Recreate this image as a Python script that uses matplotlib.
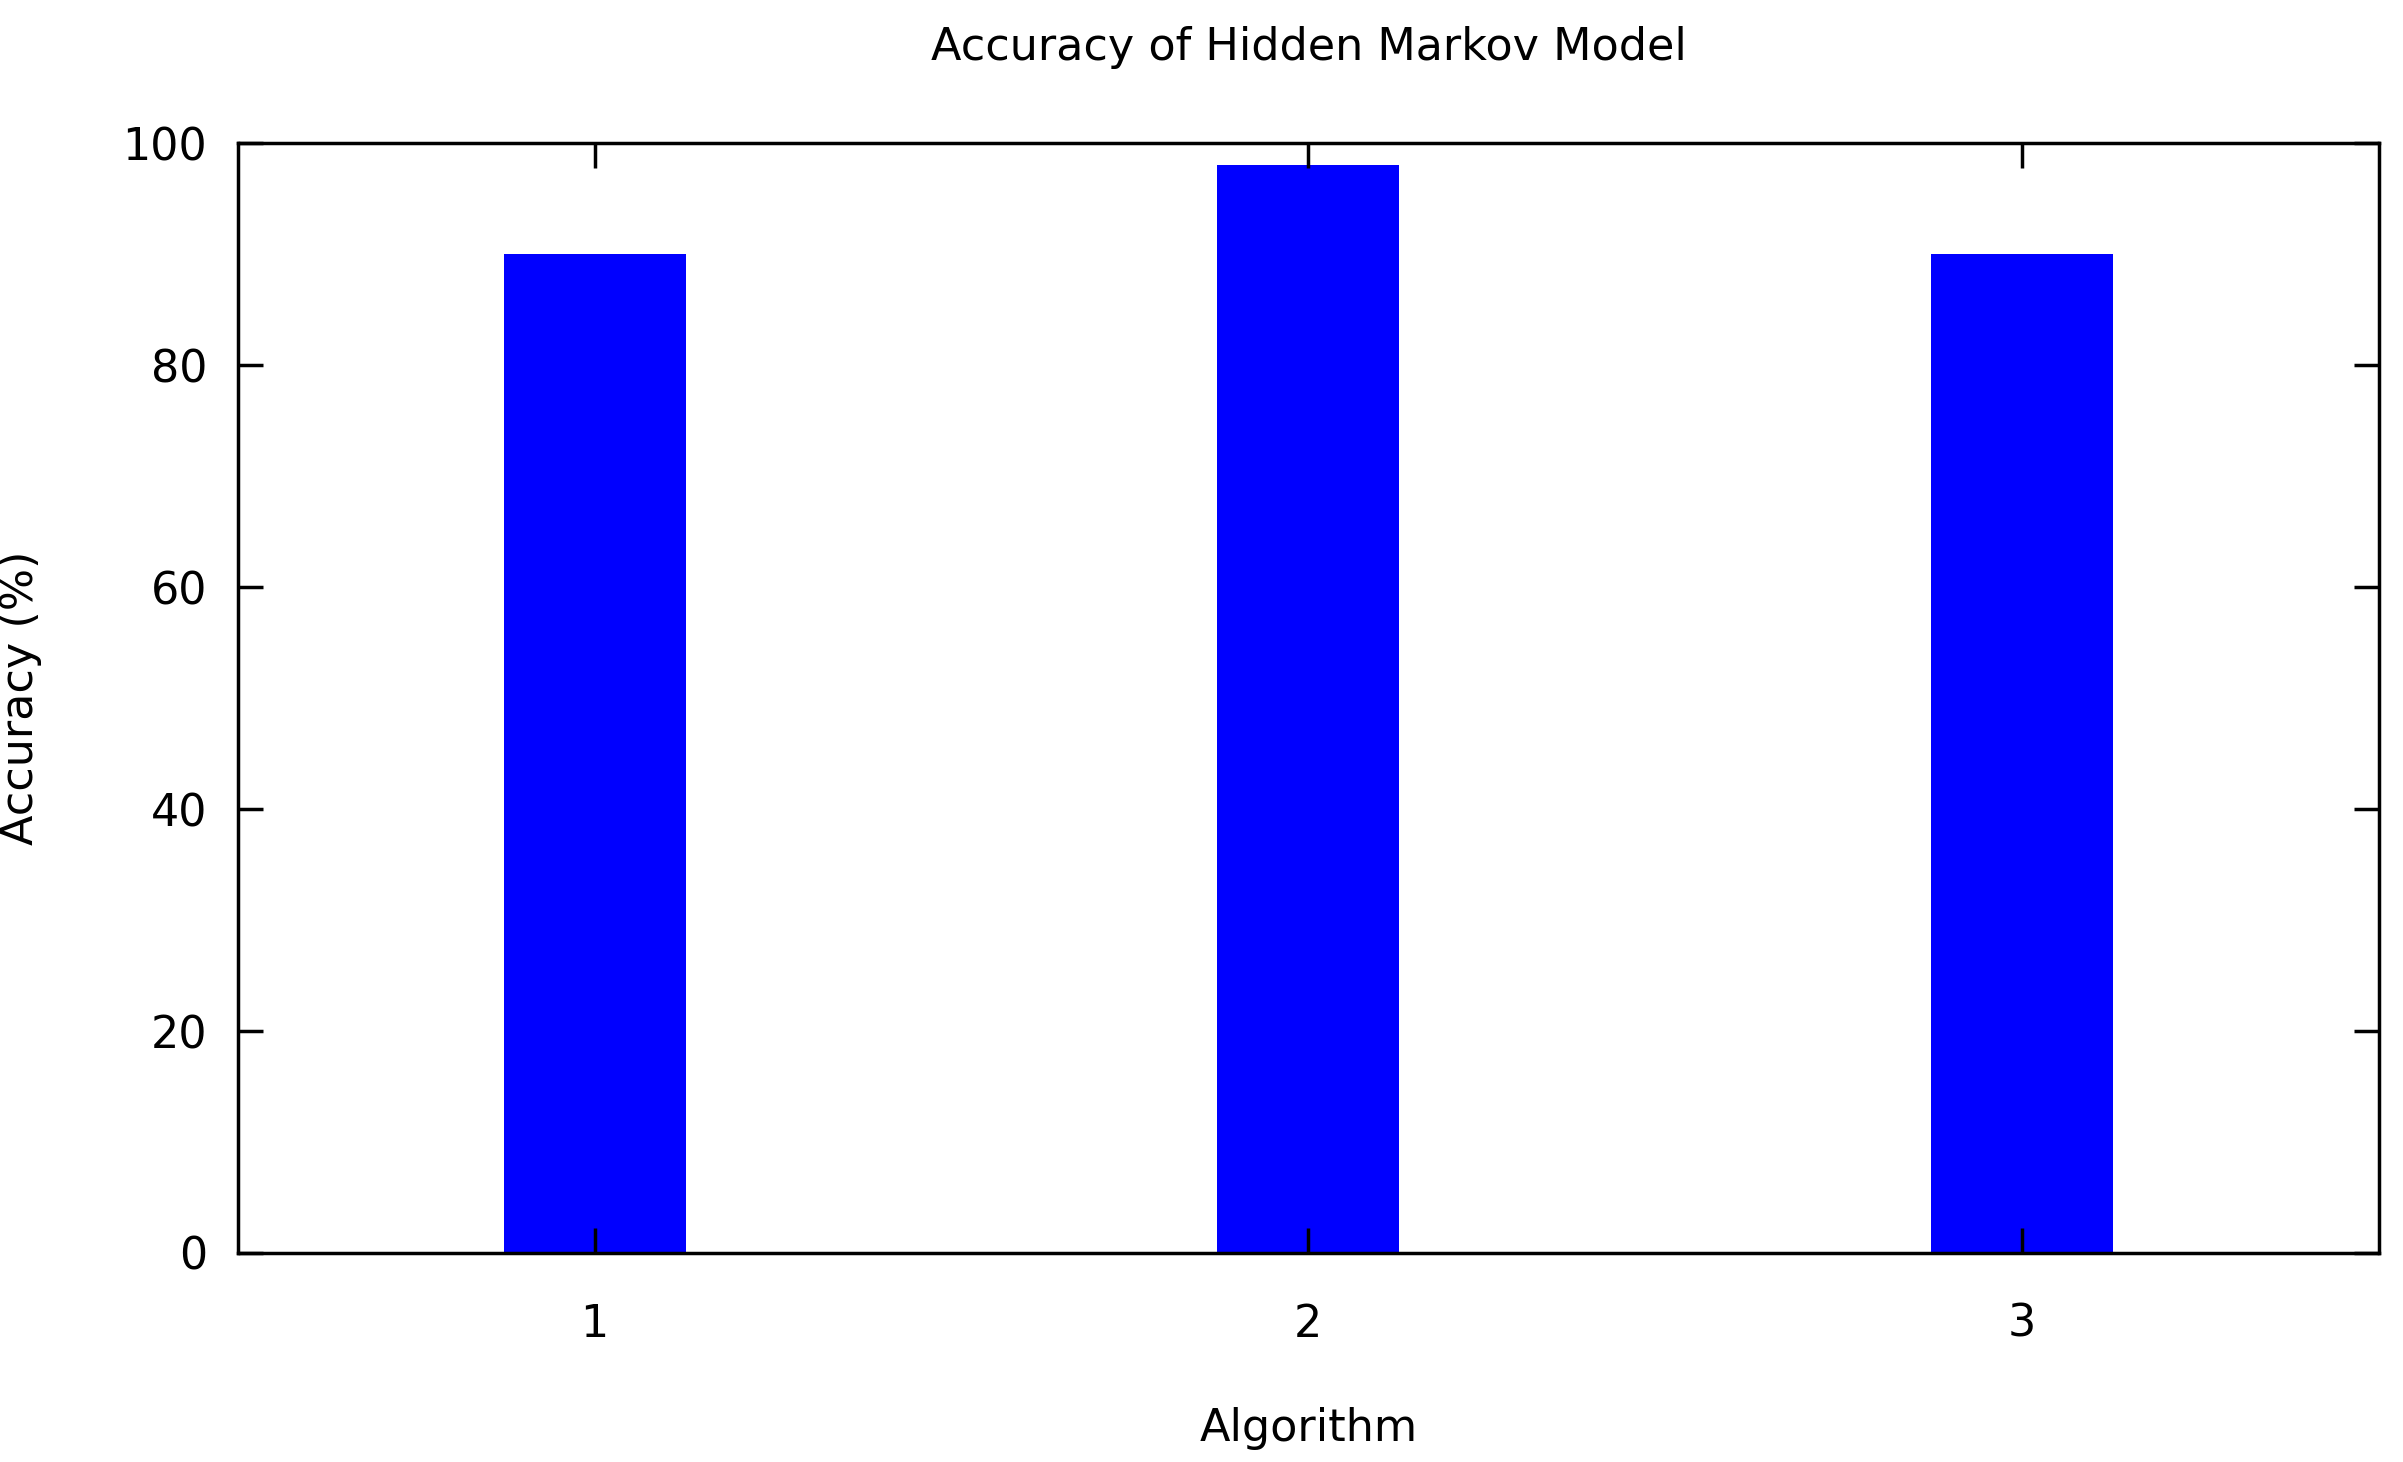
import matplotlib
matplotlib.use("Agg")
import matplotlib.pyplot as plt

algorithms = [1, 2, 3]
accuracy = [90, 98, 90]

fig = plt.figure(figsize=(24.03, 14.62), dpi=100)
ax = fig.add_axes([0.099, 0.143, 0.891, 0.759])
ax.bar(algorithms, accuracy, width=0.255, color="#0000ff")
ax.set_xlim(0.5, 3.5)
ax.set_ylim(0, 100)
ax.set_xticks(algorithms)
ax.set_yticks([0, 20, 40, 60, 80, 100])
ax.tick_params(direction="in", top=True, right=True, length=18, width=2.5, labelsize=32)
ax.tick_params(axis="x", pad=36)
ax.tick_params(axis="y", pad=22)
for s in ax.spines.values():
    s.set_linewidth(2.5)
ax.set_title("Accuracy of Hidden Markov Model", fontsize=32, pad=60)
ax.set_xlabel("Algorithm", fontsize=32, labelpad=44)
ax.set_ylabel("Accuracy (%)", fontsize=32, labelpad=58)
fig.savefig("out.png", dpi=100)
